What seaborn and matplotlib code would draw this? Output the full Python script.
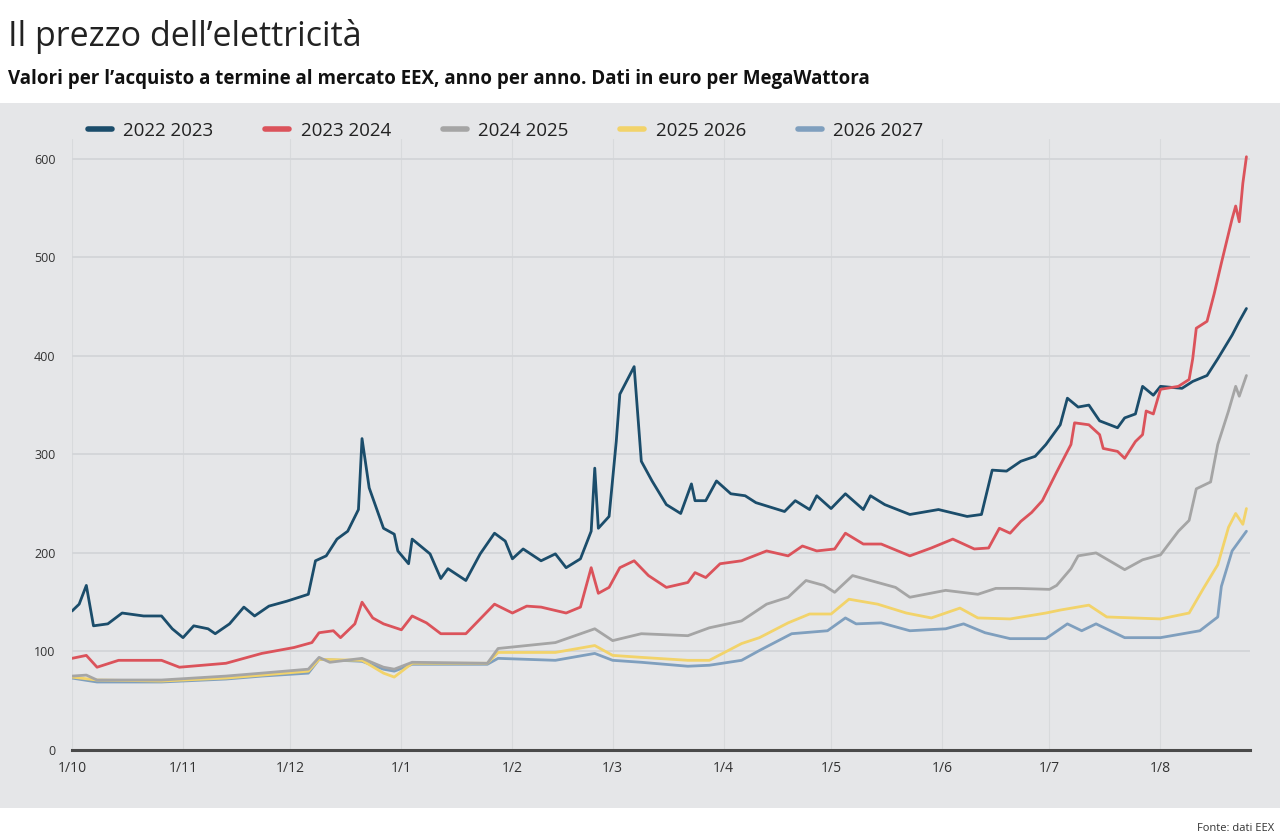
import matplotlib
matplotlib.use("Agg")
import matplotlib.pyplot as plt
import matplotlib.dates as mdates
from matplotlib.patches import Rectangle
from matplotlib.ticker import FuncFormatter
import seaborn as sns
import pandas as pd
import numpy as np

# ---------------- data ----------------
series_names = ["2022 2023", "2023 2024", "2024 2025", "2025 2026", "2026 2027"]
colors = ["#1b4d6b", "#db535b", "#a5a5a5", "#f2d36a", "#7f9fbe"]

dates_2022_2023 = ["2021-10-01", "2021-10-03", "2021-10-05", "2021-10-07", "2021-10-11", "2021-10-15",
                   "2021-10-21", "2021-10-26", "2021-10-29", "2021-11-01", "2021-11-04", "2021-11-08",
                   "2021-11-10", "2021-11-14", "2021-11-18", "2021-11-21", "2021-11-25", "2021-11-30",
                   "2021-12-06", "2021-12-08", "2021-12-11", "2021-12-14", "2021-12-17", "2021-12-20",
                   "2021-12-21", "2021-12-23", "2021-12-27", "2021-12-30", "2021-12-31", "2022-01-03",
                   "2022-01-04", "2022-01-09", "2022-01-12", "2022-01-14", "2022-01-19", "2022-01-23",
                   "2022-01-27", "2022-01-30", "2022-02-01", "2022-02-04", "2022-02-09", "2022-02-13",
                   "2022-02-16", "2022-02-20", "2022-02-23", "2022-02-24", "2022-02-25", "2022-02-28",
                   "2022-03-02", "2022-03-03", "2022-03-07", "2022-03-09", "2022-03-12", "2022-03-16",
                   "2022-03-20", "2022-03-23", "2022-03-24", "2022-03-27", "2022-03-30", "2022-04-03",
                   "2022-04-07", "2022-04-10", "2022-04-18", "2022-04-21", "2022-04-25", "2022-04-27",
                   "2022-05-01", "2022-05-05", "2022-05-10", "2022-05-12", "2022-05-16", "2022-05-23",
                   "2022-05-31", "2022-06-08", "2022-06-12", "2022-06-15", "2022-06-19", "2022-06-23",
                   "2022-06-27", "2022-06-30", "2022-07-04", "2022-07-06", "2022-07-09", "2022-07-12",
                   "2022-07-15", "2022-07-20", "2022-07-22", "2022-07-25", "2022-07-27", "2022-07-30",
                   "2022-08-01", "2022-08-07", "2022-08-10", "2022-08-14", "2022-08-17", "2022-08-21",
                   "2022-08-23", "2022-08-25"]
values_2022_2023 = [141, 148, 167, 126, 128, 139,
                    136, 136, 123, 114, 126, 123,
                    118, 128, 145, 136, 146, 151,
                    158, 192, 197, 214, 222, 244,
                    316, 266, 225, 219, 202, 189,
                    214, 199, 174, 184, 172, 199,
                    220, 212, 194, 204, 192, 199,
                    185, 194, 222, 286, 225, 237,
                    313, 361, 389, 293, 273, 249,
                    240, 270, 253, 253, 273, 260,
                    258, 251, 242, 253, 244, 258,
                    245, 260, 244, 258, 249, 239,
                    244, 237, 239, 284, 283, 293,
                    298, 310, 330, 357, 348, 350,
                    334, 327, 337, 341, 369, 360,
                    369, 367, 374, 380, 397, 421,
                    435, 448]

dates_2023_2024 = ["2021-10-01", "2021-10-05", "2021-10-08", "2021-10-14", "2021-10-26", "2021-10-31",
                   "2021-11-13", "2021-11-23", "2021-12-02", "2021-12-07", "2021-12-09", "2021-12-13",
                   "2021-12-15", "2021-12-19", "2021-12-21", "2021-12-24", "2021-12-27", "2022-01-01",
                   "2022-01-04", "2022-01-08", "2022-01-12", "2022-01-19", "2022-01-27", "2022-02-01",
                   "2022-02-05", "2022-02-09", "2022-02-16", "2022-02-20", "2022-02-23", "2022-02-25",
                   "2022-02-28", "2022-03-03", "2022-03-07", "2022-03-11", "2022-03-16", "2022-03-22",
                   "2022-03-24", "2022-03-27", "2022-03-31", "2022-04-06", "2022-04-13", "2022-04-19",
                   "2022-04-23", "2022-04-27", "2022-05-02", "2022-05-05", "2022-05-10", "2022-05-15",
                   "2022-05-23", "2022-05-29", "2022-06-04", "2022-06-10", "2022-06-14", "2022-06-17",
                   "2022-06-20", "2022-06-23", "2022-06-26", "2022-06-29", "2022-07-03", "2022-07-07",
                   "2022-07-08", "2022-07-12", "2022-07-15", "2022-07-16", "2022-07-20", "2022-07-22",
                   "2022-07-25", "2022-07-27", "2022-07-28", "2022-07-30", "2022-08-01", "2022-08-06",
                   "2022-08-09", "2022-08-10", "2022-08-11", "2022-08-14", "2022-08-16", "2022-08-18",
                   "2022-08-21", "2022-08-22", "2022-08-23", "2022-08-24", "2022-08-25"]
values_2023_2024 = [93, 96, 84, 91, 91, 84,
                    88, 98, 104, 109, 119, 121,
                    114, 128, 150, 134, 128, 122,
                    136, 129, 118, 118, 148, 139,
                    146, 145, 139, 145, 185, 159,
                    165, 185, 192, 177, 165, 170,
                    180, 175, 189, 192, 202, 197,
                    207, 202, 204, 220, 209, 209,
                    197, 205, 214, 204, 205, 225,
                    220, 232, 241, 253, 282, 310,
                    332, 330, 320, 306, 303, 296,
                    313, 320, 344, 341, 366, 369,
                    376, 397, 428, 435, 463, 494,
                    539, 552, 536, 575, 602]

dates_2024_2025 = ["2021-10-01", "2021-10-05", "2021-10-08", "2021-10-26", "2021-11-13", "2021-11-23",
                   "2021-12-06", "2021-12-09", "2021-12-12", "2021-12-21", "2021-12-27", "2021-12-30",
                   "2022-01-04", "2022-01-25", "2022-01-28", "2022-02-13", "2022-02-24", "2022-03-01",
                   "2022-03-09", "2022-03-22", "2022-03-28", "2022-04-06", "2022-04-13", "2022-04-19",
                   "2022-04-24", "2022-04-29", "2022-05-02", "2022-05-07", "2022-05-14", "2022-05-19",
                   "2022-05-23", "2022-06-02", "2022-06-11", "2022-06-16", "2022-06-22", "2022-07-01",
                   "2022-07-03", "2022-07-07", "2022-07-09", "2022-07-14", "2022-07-22", "2022-07-27",
                   "2022-08-01", "2022-08-06", "2022-08-09", "2022-08-11", "2022-08-15", "2022-08-17",
                   "2022-08-20", "2022-08-22", "2022-08-23", "2022-08-25"]
values_2024_2025 = [75, 76, 71, 71, 75, 78,
                    82, 94, 89, 93, 84, 82,
                    89, 88, 103, 109, 123, 111,
                    118, 116, 124, 131, 148, 155,
                    172, 167, 160, 177, 170, 165,
                    155, 162, 158, 164, 164, 163,
                    167, 184, 197, 200, 183, 193,
                    198, 222, 233, 265, 272, 310,
                    344, 369, 359, 380]

dates_2025_2026 = ["2021-10-01", "2021-10-08", "2021-10-26", "2021-11-13", "2021-11-23", "2021-12-06",
                   "2021-12-09", "2021-12-21", "2021-12-27", "2021-12-30", "2022-01-04", "2022-01-25",
                   "2022-01-28", "2022-02-13", "2022-02-24", "2022-03-01", "2022-03-09", "2022-03-22",
                   "2022-03-28", "2022-04-06", "2022-04-11", "2022-04-19", "2022-04-25", "2022-05-01",
                   "2022-05-06", "2022-05-14", "2022-05-22", "2022-05-29", "2022-06-06", "2022-06-11",
                   "2022-06-20", "2022-06-30", "2022-07-04", "2022-07-12", "2022-07-17", "2022-08-01",
                   "2022-08-09", "2022-08-13", "2022-08-17", "2022-08-20", "2022-08-22", "2022-08-24",
                   "2022-08-25"]
values_2025_2026 = [74, 71, 70, 73, 76, 80,
                    92, 91, 78, 74, 88, 88,
                    99, 99, 106, 96, 94, 91,
                    91, 108, 114, 129, 138, 138,
                    153, 148, 139, 134, 144, 134,
                    133, 139, 142, 147, 135, 133,
                    139, 164, 188, 226, 240, 229,
                    245]

dates_2026_2027 = ["2021-10-01", "2021-10-08", "2021-10-26", "2021-11-13", "2021-11-23", "2021-12-06",
                   "2021-12-09", "2021-12-21", "2021-12-27", "2021-12-30", "2022-01-04", "2022-01-25",
                   "2022-01-28", "2022-02-13", "2022-02-24", "2022-03-01", "2022-03-09", "2022-03-22",
                   "2022-03-28", "2022-04-06", "2022-04-11", "2022-04-20", "2022-04-30", "2022-05-05",
                   "2022-05-08", "2022-05-15", "2022-05-23", "2022-06-02", "2022-06-07", "2022-06-13",
                   "2022-06-20", "2022-06-30", "2022-07-06", "2022-07-10", "2022-07-14", "2022-07-22",
                   "2022-08-01", "2022-08-12", "2022-08-17", "2022-08-18", "2022-08-21", "2022-08-23",
                   "2022-08-25"]
values_2026_2027 = [73, 69, 69, 72, 75, 78,
                    92, 90, 82, 80, 87, 87,
                    93, 91, 98, 91, 89, 85,
                    86, 91, 101, 118, 121, 134,
                    128, 129, 121, 123, 128, 119,
                    113, 113, 128, 121, 128, 114,
                    114, 121, 135, 166, 202, 212,
                    222]

y_ticks = [0, 100, 200, 300, 400, 500, 600]

title = "Il prezzo dell\u2019elettricità"
subtitle = "Valori per l\u2019acquisto a termine al mercato EEX, anno per anno. Dati in euro per MegaWattora"
source = "Fonte: dati EEX"

# ---------------- build long table ----------------
all_dates = [dates_2022_2023, dates_2023_2024, dates_2024_2025, dates_2025_2026, dates_2026_2027]
all_values = [values_2022_2023, values_2023_2024, values_2024_2025, values_2025_2026, values_2026_2027]
frames = []
for name, d, v in zip(series_names, all_dates, all_values):
    frames.append(pd.DataFrame({"data": pd.to_datetime(d), "valore": v, "serie": name}))
df = pd.concat(frames, ignore_index=True)

# ---------------- figure ----------------
sns.set_theme(style="white")
plt.rcParams["font.family"] = ["Open Sans", "DejaVu Sans"]

fig = plt.figure(figsize=(12.8, 8.38), dpi=100)
fig.patch.set_facecolor("white")
panel_bg = "#e5e6e8"
fig.add_artist(Rectangle((0, 1 - 808 / 838), 1, (808 - 103) / 838, transform=fig.transFigure,
                         facecolor=panel_bg, edgecolor="none", zorder=0))

ax = fig.add_axes([72 / 1280, 1 - 750 / 838, (1250 - 72) / 1280, 611 / 838])
ax.set_facecolor("none")

palette = dict(zip(series_names, colors))
sns.lineplot(data=df, x="data", y="valore", hue="serie", palette=palette,
             hue_order=series_names, linewidth=2.0, ax=ax, estimator=None, sort=True)

# draw order: keep main series on top
for line, z in zip(ax.get_lines(), [5, 6, 4, 3, 2]):
    line.set_zorder(z)

start = pd.Timestamp("2021-10-01")
ax.set_xlim(start, start + pd.Timedelta(days=329))
ax.set_ylim(0, 620)
ax.set_yticks(y_ticks)
ax.set_xlabel("")
ax.set_ylabel("")

ax.xaxis.set_major_locator(mdates.MonthLocator(bymonthday=1))
ax.xaxis.set_major_formatter(FuncFormatter(lambda x, pos: f"1/{mdates.num2date(x).month}"))

ax.grid(True, axis="y", color="#d3d5d8", linewidth=1.3)
ax.grid(True, axis="x", color="#d8dadc", linewidth=0.8)
ax.set_axisbelow(True)
for s in ["top", "right", "left"]:
    ax.spines[s].set_visible(False)
ax.spines["bottom"].set_color("#4a4a4a")
ax.spines["bottom"].set_linewidth(2.2)
ax.spines["bottom"].set_zorder(7)

ax.tick_params(axis="y", length=0, pad=12, labelsize=9, labelcolor="#333333")
ax.tick_params(axis="x", length=0, pad=8, labelsize=10, labelcolor="#333333")

# legend
handles, labels = ax.get_legend_handles_labels()
if ax.get_legend() is not None:
    ax.get_legend().remove()
for h in handles:
    h.set_linewidth(4)
fig.legend(handles, labels, loc="center left", bbox_to_anchor=(84 / 1280, 1 - 131 / 838),
           ncol=5, frameon=False, fontsize=13.5, handlelength=1.3, handletextpad=0.6,
           columnspacing=2.75, labelcolor="#222222", borderaxespad=0, borderpad=0.2)

# texts
fig.text(8 / 1280, 1 - 36 / 838, title, fontsize=24.5, color="#222222", va="center", ha="left")
fig.text(8 / 1280, 1 - 79 / 838, subtitle, fontsize=13.5, color="#111111", va="center", ha="left",
         fontweight="bold")
fig.text(1274 / 1280, 1 - 828 / 838, source, fontsize=8, color="#333333", va="center", ha="right")

fig.savefig("out.png", dpi=100, facecolor="white")
